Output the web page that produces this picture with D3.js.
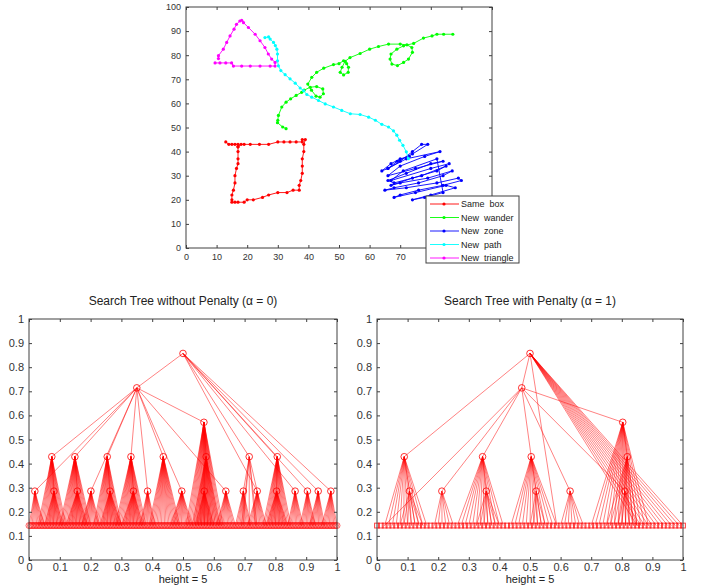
<!DOCTYPE html>
<html>
<head>
<meta charset="utf-8">
<script src="https://cdn.jsdelivr.net/npm/d3@7"></script>
<style>
body { margin: 0; background: #fff; }
text { font-family: "Liberation Sans", Arial, sans-serif; }
</style>
</head>
<body>
<svg width="702" height="585"></svg>
<script>
// ---- top chart: five traced paths ----
var seriesNames = ['Same  box', 'New  wander', 'New  zone', 'New  path', 'New  triangle'];
var seriesColors = ['#ff0000', '#00ff00', '#0000ff', '#00ffff', '#ff00ff'];

var boxX = [13,14,15,16,17,17,17,17,17,16.5,16,16,15.5,15,15,15,16,17,19,20,22,25,27,30,33,35,37,37,37.5,38,38,38,38.5,38.5,39,38,38,36,34,32,30,27,24,21,19,18,17];
var boxY = [44,43,43,43,43,42,40,37,35,33,30,27,24,22,20,19,19,19,19,20,20,21,22,23,23,24,24,26,28,31,34,37,40,43,45,45,44,44,44,44,44,43,43,43,43,43,42];

var wanderX = [32.7,31.6,29.9,30,30.2,31.3,32.7,34.2,36,37.8,38.6,40.6,42.7,44.7,44.9,43.8,42.5,41,39.8,41.1,42.7,45,48.2,50,51.5,52.5,53.1,53,51.5,50.4,51,52,53.6,56.9,60,62.9,66.2,70,72.2,73.8,74,72.7,71.1,69.1,67.3,66.7,67,68.9,71.1,74.4,77.6,80.4,82,84.2,87.2];
var wanderY = [49.5,50.2,52,53,55,58.5,60.5,61.9,63.3,64.6,65.5,66.7,67,66,64,62.6,63,65.5,68,70.8,72.9,74.6,76.1,76.5,77.7,76.5,75,72.9,71.8,72.9,75,77.5,79,80.7,82.5,83.6,84.6,84.6,84.3,83.2,81.2,78.4,77,75.7,76.3,78.4,80.5,82.5,83.9,84.9,87.1,88,88.7,88.7,88.7];

var zoneX = [73,70,67,64,66,70,74,77,79,74,69,66,72,83,78,70,66,75,84,80,72,66,68,77,85,82,74,67,70,79,87,84,76,68,65,72,82,89,90,84,76,70,68,75,85,88,80,74,78,84,82,71,67,80,86];
var zoneY = [38,37,35,32,33,36,40,43,43,39,36,33,37,40,38,34,30,33,36,35,31,28,27,30,34,32,29,26,27,29,32,30,27,25,24,25,27,29,28,26,24,22,21,23,26,25,22,20,21,23,37,32,28,33,35];

var pathX = [25.8,27,27.5,28.6,29.2,29.7,29.9,29.9,30.2,31,32.4,34,35.7,37.3,38.4,39.5,41.1,43.3,45.5,48.2,50.9,53.7,56.9,59.7,61.9,64,66.2,67.8,68.9,69.8,70.9,72,72.7];
var pathY = [87.3,87.6,86.7,85.3,84,82.5,80.5,77.7,75.6,73.6,71.9,70.2,68.4,66.4,65.3,63.7,62.6,61.2,59.8,58.5,57.1,55.7,55.4,54.3,53,51.3,50.2,48.6,46.8,44.7,42.6,39.9,37.1];

var triX = [9.5,11.1,13,14.9,15.5,18.2,21,24.2,27.5,29.1,29.1,28,26.9,25.8,24.2,22.6,20.4,18.8,18.2,17.6,16.5,15.7,14.4,13.3,12.2,10.6,10.6];
var triY = [76.8,76.8,76.8,76.8,75.5,75.5,75.5,75.5,75.5,75.5,77,78.4,80.5,83.2,86,88.7,91.5,93.5,94.5,94.2,92.8,90.8,88,85.3,82.5,79.8,78.6];

var topTicks = [0,10,20,30,40,50,60,70,80,90,100];
// 80..100 sit under the legend in the picture
var topXLabels = ['0','10','20','30','40','50','60','70','','',''];
var topYLabels = ['0','10','20','30','40','50','60','70','80','90','100'];

// ---- bottom charts: search trees ----
var treeTicks = [0,0.1,0.2,0.3,0.4,0.5,0.6,0.7,0.8,0.9,1];
var treeTickLabels = ['0','0.1','0.2','0.3','0.4','0.5','0.6','0.7','0.8','0.9','1'];
var levelY = [0, 0.1429, 0.2857, 0.4286, 0.5714, 0.7143, 0.8571];

// left tree (alpha = 0): internal nodes
var leftNodeX = [0.50, 0.35, 0.568, 0.074, 0.149, 0.254, 0.331, 0.436, 0.575, 0.715, 0.806,
                 0.019, 0.081, 0.157, 0.201, 0.263, 0.339, 0.385, 0.496, 0.569, 0.639, 0.696, 0.741, 0.804, 0.864, 0.904, 0.939, 0.980];
var leftNodeLevel = [6, 5, 4, 3, 3, 3, 3, 3, 3, 3, 3,
                     2, 2, 2, 2, 2, 2, 2, 2, 2, 2, 2, 2, 2, 2, 2, 2, 2];
var leftEdges = [[0,1],[0,9],[0,10],[0,24],[0,25],[0,26],[0,27],[0,22],
                 [1,2],[1,3],[1,4],[1,5],[1,6],[1,7],[1,11],[1,14],[1,17],[1,18],[1,20],
                 [2,8],[2,19],[3,12],[4,13],[5,15],[6,16],[9,21],[9,22],[10,23]];
var leftLeafX = [0,0.005,0.01,0.015,0.02,0.025,0.03,0.035,0.04,0.045,0.05,0.055,0.06,0.065,0.07,0.075,0.08,0.085,0.09,0.095,
                 0.1,0.105,0.11,0.115,0.12,0.125,0.13,0.135,0.14,0.145,0.15,0.155,0.16,0.165,0.17,0.175,0.18,0.185,0.19,0.195,
                 0.2,0.205,0.21,0.215,0.22,0.225,0.23,0.235,0.24,0.245,0.25,0.255,0.26,0.265,0.27,0.275,0.28,0.285,0.29,0.295,
                 0.3,0.305,0.31,0.315,0.32,0.325,0.33,0.335,0.34,0.345,0.35,0.355,0.36,0.365,0.37,0.375,0.38,0.385,0.39,0.395,
                 0.4,0.405,0.41,0.415,0.42,0.425,0.43,0.435,0.44,0.445,0.45,0.455,0.46,0.465,0.47,0.475,0.48,0.485,0.49,0.495,
                 0.5,0.505,0.51,0.515,0.52,0.525,0.53,0.535,0.54,0.545,0.55,0.555,0.56,0.565,0.57,0.575,0.58,0.585,0.59,0.595,
                 0.6,0.605,0.61,0.615,0.62,0.625,0.63,0.635,0.64,0.645,0.65,0.655,0.66,0.665,0.67,0.675,0.68,0.685,0.69,0.695,
                 0.7,0.705,0.71,0.715,0.72,0.725,0.73,0.735,0.74,0.745,0.75,0.755,0.76,0.765,0.77,0.775,0.78,0.785,0.79,0.795,
                 0.8,0.805,0.81,0.815,0.82,0.825,0.83,0.835,0.84,0.845,0.85,0.855,0.86,0.865,0.87,0.875,0.88,0.885,0.89,0.895,
                 0.9,0.905,0.91,0.915,0.92,0.925,0.93,0.935,0.94,0.945,0.95,0.955,0.96,0.965,0.97,0.975,0.98,0.985,0.99,0.995,1];
// [parent node, first leaf x, last leaf x]
var leftFans = [[11,0,0.05],[12,0.05,0.11],[13,0.12,0.19],[14,0.17,0.23],[15,0.23,0.3],[16,0.3,0.37],
                [17,0.36,0.41],[18,0.46,0.53],[19,0.54,0.6],[20,0.61,0.67],[21,0.67,0.72],[22,0.71,0.77],
                [23,0.77,0.84],[24,0.84,0.89],[25,0.88,0.93],[26,0.91,0.96],[27,0.95,1],
                [3,0.03,0.12],[4,0.1,0.2],[5,0.21,0.3],[6,0.28,0.38],[7,0.39,0.49],[8,0.53,0.62],
                [9,0.715,0.715],[9,0.69,0.695],[9,0.735,0.74],[10,0.76,0.85],[2,0.51,0.63]];

// right tree (alpha = 1)
var rightNodeX = [0.50, 0.473, 0.803, 0.089, 0.345, 0.504, 0.818, 0.106, 0.212, 0.357, 0.520, 0.631, 0.810];
var rightNodeLevel = [6, 5, 4, 3, 3, 3, 3, 2, 2, 2, 2, 2, 2];
var rightEdges = [[0,1],[0,3],[1,2],[1,4],[1,5],[1,8],[1,11],[1,12],[2,6],[3,7],[4,9],[5,10],[6,12]];
var rightLeafX = [0,0.0125,0.025,0.0375,0.05,0.0625,0.075,0.0875,0.1,0.1125,0.125,0.1375,0.15,0.1625,0.175,0.1875,
                  0.2,0.2125,0.225,0.2375,0.25,0.2625,0.275,0.2875,0.3,0.3125,0.325,0.3375,0.35,0.3625,0.375,0.3875,
                  0.4,0.4125,0.425,0.4375,0.45,0.4625,0.475,0.4875,0.5,0.5125,0.525,0.5375,0.55,0.5625,0.575,0.5875,
                  0.6,0.6125,0.625,0.6375,0.65,0.6625,0.675,0.6875,0.7,0.7125,0.725,0.7375,0.75,0.7625,0.775,0.7875,
                  0.8,0.8125,0.825,0.8375,0.85,0.8625,0.875,0.8875,0.9,0.9125,0.925,0.9375,0.95,0.9625,0.975,0.9875,1];
var rightFans = [[3,0.02,0.17],[7,0.07,0.15],[8,0.18,0.25],[4,0.26,0.42],[9,0.32,0.4],[5,0.43,0.59],
                 [10,0.49,0.56],[11,0.59,0.68],[2,0.69,0.89],[6,0.75,0.86],[12,0.78,0.85],
                 [0,0.85,1],[0,0.5875,0.5875],[1,0.025,0.025]];

var svg = d3.select('svg');
var axisColor = '#404040';

function drawAxes(g, x, y, ticksX, ticksY, fmtX, fmtY, fontSize, padX, padY) {
	var h = y.range()[0], top = y.range()[1], left = x.range()[0], right = x.range()[1];
	var ax = [
		g.append('g').attr('transform', 'translate(0,' + h + ')')
			.call(d3.axisBottom(x).tickValues(ticksX).tickSize(-3).tickSizeOuter(0).tickPadding(padX).tickFormat(fmtX)),
		g.append('g').attr('transform', 'translate(0,' + top + ')')
			.call(d3.axisTop(x).tickValues(ticksX).tickSize(-3).tickSizeOuter(0).tickFormat('')),
		g.append('g').attr('transform', 'translate(' + left + ',0)')
			.call(d3.axisLeft(y).tickValues(ticksY).tickSize(-3).tickSizeOuter(0).tickPadding(padY).tickFormat(fmtY)),
		g.append('g').attr('transform', 'translate(' + right + ',0)')
			.call(d3.axisRight(y).tickValues(ticksY).tickSize(-3).tickSizeOuter(0).tickFormat(''))
	];
	ax.forEach(function (a) {
		a.select('.domain').remove();
		a.selectAll('line').attr('stroke', axisColor);
		a.selectAll('text').attr('fill', '#333').style('font-size', fontSize + 'px');
	});
	g.append('rect')
		.attr('x', left).attr('y', top)
		.attr('width', right - left).attr('height', h - top)
		.attr('fill', 'none').attr('stroke', axisColor);
}

// ---- top chart ----
var tx = d3.scaleLinear().domain([0, 100]).range([186, 492]);
var ty = d3.scaleLinear().domain([0, 100]).range([248, 7]);
var gTop = svg.append('g');

var topData = [
	d3.zip(boxX, boxY), d3.zip(wanderX, wanderY), d3.zip(zoneX, zoneY),
	d3.zip(pathX, pathY), d3.zip(triX, triY)
];
var topLine = d3.line().x(function (d) { return tx(d[0]); }).y(function (d) { return ty(d[1]); });

topData.forEach(function (pts, i) {
	gTop.append('path')
		.datum(pts)
		.attr('fill', 'none')
		.attr('stroke', seriesColors[i])
		.attr('stroke-width', 0.9)
		.attr('d', topLine);
	gTop.selectAll('.m' + i)
		.data(pts)
		.enter()
		.append('circle')
		.attr('class', 'm' + i)
		.attr('cx', function (d) { return tx(d[0]); })
		.attr('cy', function (d) { return ty(d[1]); })
		.attr('r', 1.6)
		.attr('fill', seriesColors[i]);
});

drawAxes(gTop, tx, ty, topTicks, topTicks,
	function (d, i) { return topXLabels[i]; }, function (d, i) { return topYLabels[i]; }, 9, 6, 5);

// legend
var lg = gTop.append('g');
lg.append('rect')
	.attr('x', 426).attr('y', 196).attr('width', 93).attr('height', 67)
	.attr('fill', '#fff').attr('stroke', axisColor);
seriesNames.forEach(function (name, i) {
	var yy = 204 + i * 13.5;
	lg.append('line').attr('x1', 430).attr('x2', 459).attr('y1', yy).attr('y2', yy)
		.attr('stroke', seriesColors[i]).attr('stroke-width', 0.9);
	lg.append('circle').attr('cx', 444).attr('cy', yy).attr('r', 1.6).attr('fill', seriesColors[i]);
	lg.append('text').attr('x', 461).attr('y', yy + 3.3)
		.attr('fill', '#222').style('font-size', '9px').style('white-space', 'pre')
		.text(name);
});

// ---- trees ----
function drawTree(left, right, title, nodeX, nodeLevel, edges, leafX, fans, leafShape) {
	var x = d3.scaleLinear().domain([0, 1]).range([left, right]);
	var y = d3.scaleLinear().domain([0, 1]).range([560, 319]);
	var g = svg.append('g');

	var segs = [];
	edges.forEach(function (e) {
		segs.push([nodeX[e[0]], levelY[nodeLevel[e[0]]], nodeX[e[1]], levelY[nodeLevel[e[1]]]]);
	});
	fans.forEach(function (f) {
		leafX.forEach(function (lx) {
			if (lx >= f[1] - 1e-9 && lx <= f[2] + 1e-9) {
				segs.push([nodeX[f[0]], levelY[nodeLevel[f[0]]], lx, levelY[1]]);
			}
		});
	});

	g.selectAll('.edge')
		.data(segs)
		.enter()
		.append('line')
		.attr('class', 'edge')
		.attr('x1', function (d) { return x(d[0]); })
		.attr('y1', function (d) { return y(d[1]); })
		.attr('x2', function (d) { return x(d[2]); })
		.attr('y2', function (d) { return y(d[3]); })
		.attr('stroke', '#ff0000')
		.attr('stroke-opacity', 0.55)
		.attr('stroke-width', 0.9);

	if (leafShape === 'circle') {
		g.selectAll('.leaf')
			.data(leafX)
			.enter()
			.append('circle')
			.attr('class', 'leaf')
			.attr('cx', function (d) { return x(d); })
			.attr('cy', y(levelY[1]))
			.attr('r', 3)
			.attr('fill', 'none')
			.attr('stroke', '#ff0000')
			.attr('stroke-opacity', 0.6);
	} else {
		g.selectAll('.leaf')
			.data(leafX)
			.enter()
			.append('rect')
			.attr('class', 'leaf')
			.attr('x', function (d) { return x(d) - 2.4; })
			.attr('y', y(levelY[1]) - 2.4)
			.attr('width', 4.8)
			.attr('height', 4.8)
			.attr('fill', 'none')
			.attr('stroke', '#ff0000')
			.attr('stroke-opacity', 0.75);
	}

	g.selectAll('.node')
		.data(nodeX)
		.enter()
		.append('circle')
		.attr('class', 'node')
		.attr('cx', function (d) { return x(d); })
		.attr('cy', function (d, i) { return y(levelY[nodeLevel[i]]); })
		.attr('r', 3.3)
		.attr('fill', 'none')
		.attr('stroke', '#ff0000')
		.attr('stroke-opacity', 0.8);

	var fmt = function (d, i) { return treeTickLabels[i]; };
	drawAxes(g, x, y, treeTicks, treeTicks, fmt, fmt, 11, 3, 5);

	g.append('text')
		.attr('x', (left + right) / 2).attr('y', 305)
		.attr('text-anchor', 'middle').attr('fill', '#222')
		.style('font-size', '12px')
		.text(title);
	g.append('text')
		.attr('x', (left + right) / 2).attr('y', 583)
		.attr('text-anchor', 'middle').attr('fill', '#222')
		.style('font-size', '11px')
		.text('height = 5');
}

drawTree(29, 337, 'Search Tree without Penalty (\u03b1 = 0)', leftNodeX, leftNodeLevel, leftEdges, leftLeafX, leftFans, 'circle');
drawTree(377, 683, 'Search Tree with Penalty (\u03b1 = 1)', rightNodeX, rightNodeLevel, rightEdges, rightLeafX, rightFans, 'square');
</script>
</body>
</html>
